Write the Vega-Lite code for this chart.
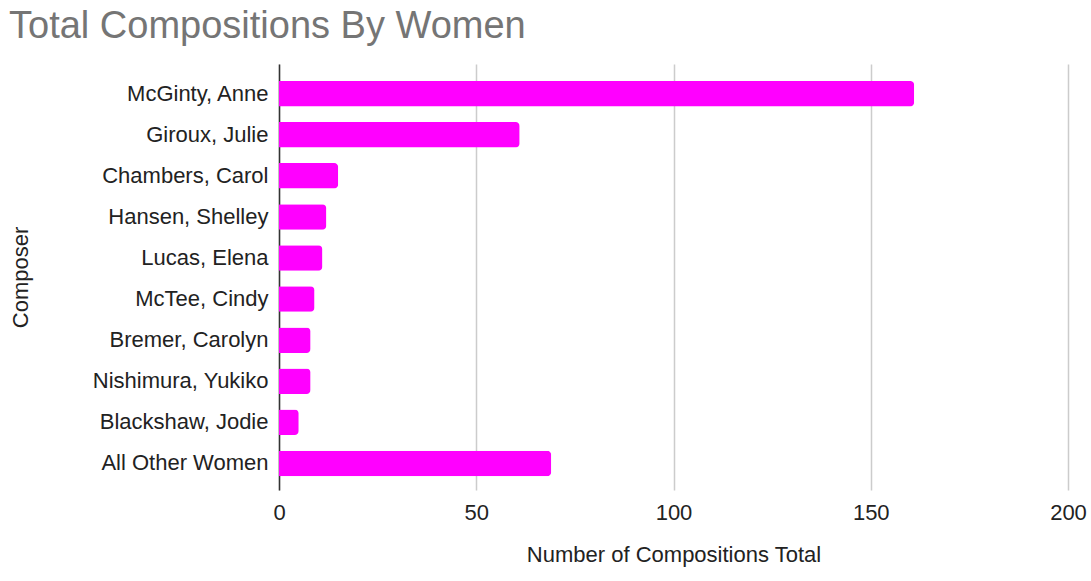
{
  "$schema": "https://vega.github.io/schema/vega-lite/v6.json",
  "width": 789,
  "height": 426,
  "autosize": "none",
  "padding": {"left": 279, "top": 64, "right": 23, "bottom": 91},
  "background": "white",
  "title": {
    "text": "Total Compositions By Women",
    "anchor": "start",
    "frame": "group",
    "dx": -270,
    "dy": -14,
    "font": "Arial",
    "fontSize": 38,
    "fontWeight": "normal",
    "color": "#757575"
  },
  "data": {
    "values": [
      {"composer": "McGinty, Anne", "total": 161},
      {"composer": "Giroux, Julie", "total": 61},
      {"composer": "Chambers, Carol", "total": 15},
      {"composer": "Hansen, Shelley", "total": 12},
      {"composer": "Lucas, Elena", "total": 11},
      {"composer": "McTee, Cindy", "total": 9},
      {"composer": "Bremer, Carolyn", "total": 8},
      {"composer": "Nishimura, Yukiko", "total": 8},
      {"composer": "Blackshaw, Jodie", "total": 5},
      {"composer": "All Other Women", "total": 69}
    ]
  },
  "mark": {"type": "bar", "color": "#ff00ff", "cornerRadiusEnd": 4},
  "encoding": {
    "y": {
      "field": "composer",
      "type": "nominal",
      "sort": null,
      "title": "Composer",
      "scale": {"paddingInner": 0.38, "paddingOuter": 0.375, "align": 0.55},
      "axis": {
        "ticks": false,
        "grid": false,
        "domainColor": "#333333",
        "domainWidth": 1.5,
        "labelFont": "Arial",
        "labelFontSize": 22,
        "labelColor": "#222222",
        "labelPadding": 11,
        "titleFont": "Arial",
        "titleFontSize": 22,
        "titleFontWeight": "normal",
        "titleColor": "#222222",
        "titlePadding": 59
      }
    },
    "x": {
      "field": "total",
      "type": "quantitative",
      "title": "Number of Compositions Total",
      "scale": {"domain": [0, 200], "nice": false},
      "axis": {
        "values": [0, 50, 100, 150, 200],
        "ticks": false,
        "domain": false,
        "gridColor": "#cccccc",
        "gridWidth": 1.5,
        "labelFont": "Arial",
        "labelFontSize": 22,
        "labelColor": "#222222",
        "labelPadding": 12,
        "labelFlush": false,
        "titleFont": "Arial",
        "titleFontSize": 22,
        "titleFontWeight": "normal",
        "titleColor": "#222222",
        "titlePadding": 21
      }
    }
  },
  "config": {"view": {"stroke": null}}
}
